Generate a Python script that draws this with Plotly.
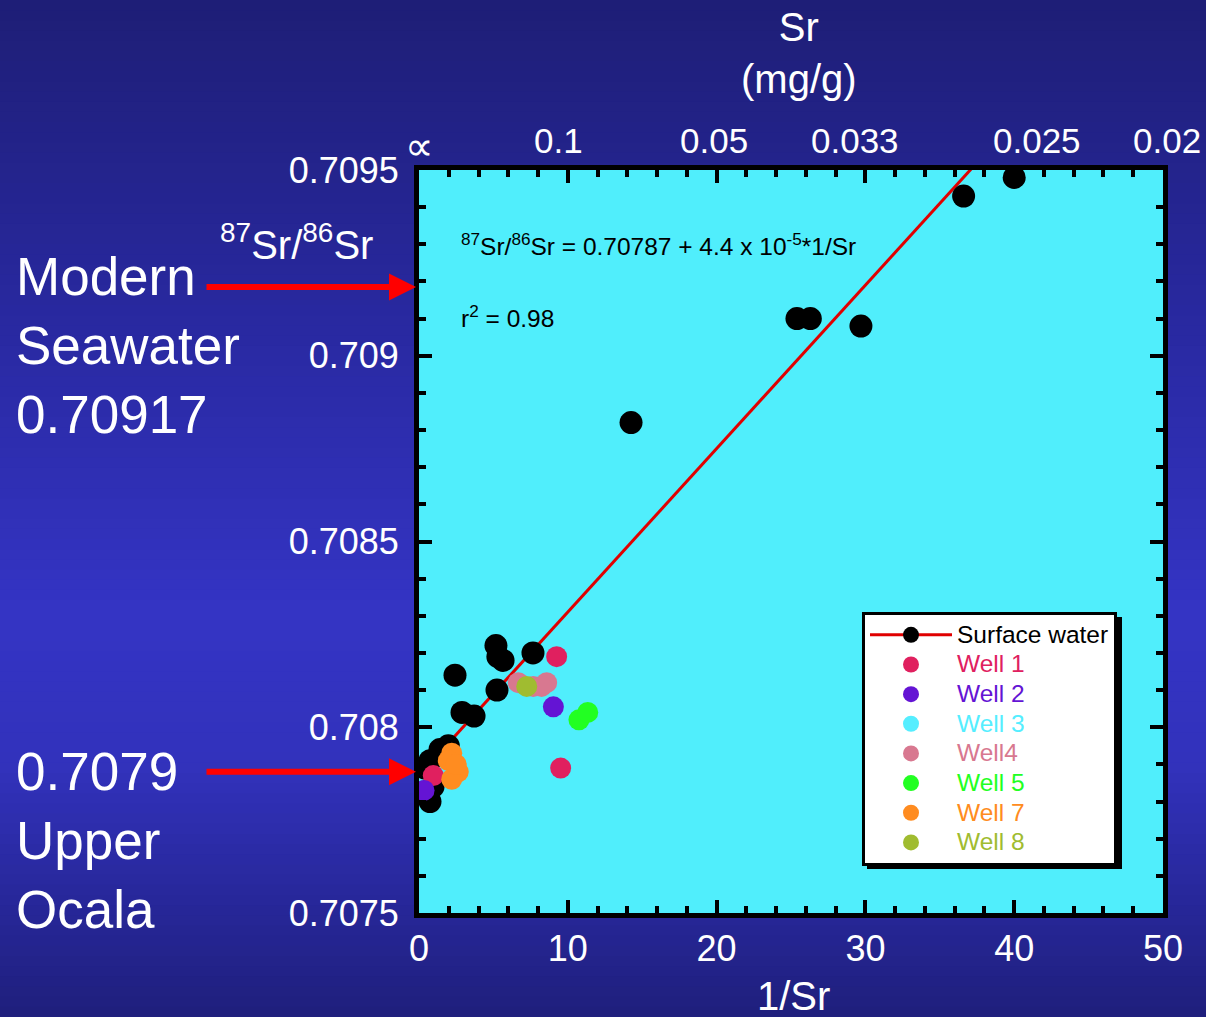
import plotly.graph_objects as go

# ---------------- data ----------------
surface_x = [40.0, 36.6, 25.4, 26.3, 29.7, 14.25, 7.66, 5.17, 5.3, 5.65, 2.42, 5.24, 2.89, 3.7,
             1.97, 1.41, 0.74, 0.4, 0.94, 0.74]
surface_y = [0.70948, 0.70943, 0.70910, 0.70910, 0.70908, 0.70882, 0.70820, 0.70822, 0.70819, 0.70818,
             0.70814, 0.70810, 0.70804, 0.70803, 0.70795, 0.70794, 0.70791, 0.70789, 0.70784, 0.70780]

well1_x = [9.25, 9.52, 0.96]
well1_y = [0.70819, 0.70789, 0.70787]
well2_x = [9.03, 0.34]
well2_y = [0.708055, 0.70783]
well3_x = [None]
well3_y = [None]
well4_x = [6.67, 7.68, 8.58, 8.24]
well4_y = [0.70812, 0.70811, 0.70812, 0.70811]
well5_x = [10.75, 11.34]
well5_y = [0.70802, 0.70804]
well7_x = [2.2, 1.97, 2.64, 2.2, 2.5]
well7_y = [0.70793, 0.70791, 0.70788, 0.70786, 0.70790]
well8_x = [7.24]
well8_y = [0.70811]

fit_intercept = 0.70787
fit_slope = 4.4e-5
fit_x = [0, 50]

x_ticks = [0, 10, 20, 30, 40, 50]
y_ticks = [0.7075, 0.708, 0.7085, 0.709, 0.7095]
y_ticklabels = ["0.7075", "0.708", "0.7085", "0.709", "0.7095"]
top_positions = [0, 9.4, 19.8, 29.3, 41.5, 50]
top_labels = ["∝", "0.1", "0.05", "0.033", "0.025", "0.02"]

seawater_value = 0.709185
ocala_value = 0.70788

# ---------------- styling ----------------
FONT = "Liberation Sans, Arial, sans-serif"
wells = [
    ("Well 1", well1_x, well1_y, "#E0205F"),
    ("Well 2", well2_x, well2_y, "#6414D4"),
    ("Well 3", well3_x, well3_y, "#55EEFF"),
    ("Well4", well4_x, well4_y, "#D87890"),
    ("Well 5", well5_x, well5_y, "#22FF22"),
    ("Well 7", well7_x, well7_y, "#FF8C20"),
    ("Well 8", well8_x, well8_y, "#A0BC30"),
]

fig = go.Figure()

# legend-only entry for surface water (red line + black marker)
fig.add_trace(go.Scatter(x=[None], y=[None], mode="lines+markers",
                         name="<span style='font-size:24.5px'>Surface water</span>",
                         line=dict(color="#E00000", width=3),
                         marker=dict(color="black", size=22)))

fit_y = [fit_intercept + fit_slope * v for v in fit_x]
fig.add_trace(go.Scatter(x=fit_x, y=fit_y, mode="lines", showlegend=False,
                         line=dict(color="#E00000", width=3), hoverinfo="skip"))

fig.add_trace(go.Scatter(x=surface_x, y=surface_y, mode="markers", showlegend=False,
                         marker=dict(color="black", size=23, line=dict(width=0))))

for name, xs, ys, col in wells:
    fig.add_trace(go.Scatter(x=xs, y=ys, mode="markers",
                             name=f"<span style='color:{col};font-size:24.5px'>{name}</span>",
                             marker=dict(color=col, size=21, line=dict(width=0))))

# background gradient bands
def grad_color(t):
    stops = [(0.0, (30, 30, 118)), (0.3, (40, 40, 158)), (0.6, (52, 52, 196)),
             (0.75, (50, 50, 188)), (0.9, (38, 38, 150)), (1.0, (31, 31, 124))]
    for (t0, c0), (t1, c1) in zip(stops[:-1], stops[1:]):
        if t0 <= t <= t1:
            f = (t - t0) / (t1 - t0)
            return "rgb(%d,%d,%d)" % tuple(round(a + (b - a) * f) for a, b in zip(c0, c1))
    return "rgb(%d,%d,%d)" % stops[-1][1]

W, H = 1206, 1017
L, R, T, B = 419, 43, 170, 104
pw, ph = W - L - R, H - T - B

def px_x(px):
    return (px - L) / pw

def px_y(py):
    return (H - B - py) / ph

shapes = []
n = 100
for i in range(n):
    y_top = i * H / n
    y_bot = (i + 1) * H / n + 1
    shapes.append(dict(type="rect", xref="paper", yref="paper", layer="below",
                       x0=px_x(0), x1=px_x(W), y0=px_y(y_bot), y1=px_y(y_top),
                       fillcolor=grad_color((i + 0.5) / n), line=dict(width=0)))
# plot area background (cyan)
shapes.append(dict(type="rect", xref="paper", yref="paper", layer="below",
                   x0=0, x1=1, y0=0, y1=1, fillcolor="#50EEFC", line=dict(width=0)))

# legend shadow
shapes.append(dict(type="rect", xref="paper", yref="paper", layer="above",
                   x0=px_x(867), x1=px_x(1122), y0=px_y(869), y1=px_y(617),
                   fillcolor="black", line=dict(width=0)))

annotations = []
# top axis labels
for pos, lab in zip(top_positions, top_labels):
    size = 40 if lab == "∝" else 35
    shift = 24 if lab == "∝" else 30
    xs = 4 if lab == "0.02" else 0
    annotations.append(dict(x=pos, y=1, xref="x", yref="paper", text=lab, showarrow=False,
                            yshift=shift, xshift=xs, yanchor="middle", xanchor="center",
                            font=dict(family=FONT, size=size, color="white")))

annotations += [
    dict(x=px_x(799), y=px_y(53), xref="paper", yref="paper", text="Sr<br>(mg/g)",
         xanchor="center", yanchor="middle",
         showarrow=False, font=dict(family=FONT, size=40, color="white")),
    dict(x=px_x(793), y=px_y(996), xref="paper", yref="paper", text="1/Sr",
         xanchor="center", yanchor="middle",
         showarrow=False, font=dict(family=FONT, size=40, color="white")),
    dict(x=px_x(296), y=px_y(242), xref="paper", yref="paper",
         text="<sup>87</sup>Sr/<sup>86</sup>Sr", xanchor="center", yanchor="middle",
         showarrow=False, font=dict(family=FONT, size=40, color="white")),
    dict(x=px_x(14), y=px_y(345), xref="paper", yref="paper", xanchor="left", yanchor="middle",
         text="Modern<br>Seawater<br>0.70917", align="left",
         showarrow=False, font=dict(family=FONT, size=53, color="white")),
    dict(x=px_x(14), y=px_y(840), xref="paper", yref="paper", xanchor="left", yanchor="middle",
         text="0.7079<br>Upper<br>Ocala", align="left",
         showarrow=False, font=dict(family=FONT, size=53, color="white")),
    dict(x=px_x(459), y=px_y(244), xref="paper", yref="paper", xanchor="left", yanchor="middle",
         text="<sup>87</sup>Sr/<sup>86</sup>Sr = 0.70787 + 4.4 x 10<sup>-5</sup>*1/Sr",
         showarrow=False, font=dict(family=FONT, size=24.5, color="black")),
    dict(x=px_x(459), y=px_y(316), xref="paper", yref="paper", xanchor="left", yanchor="middle",
         text="r<sup>2</sup> = 0.98",
         showarrow=False, font=dict(family=FONT, size=24.5, color="black")),
]
for val in [seawater_value, ocala_value]:
    annotations.append(dict(x=px_x(416), y=val, xref="paper", yref="y", text="",
                            showarrow=True, ax=-211, ay=0, axref="pixel", ayref="pixel",
                            arrowhead=2, arrowsize=0.9, arrowwidth=6, arrowcolor="#FF0000",
                            standoff=0, startstandoff=0))

fig.update_layout(
    width=W, height=H,
    margin=dict(l=L, r=R, t=T, b=B, pad=0),
    paper_bgcolor="#2a2aa0",
    plot_bgcolor="rgba(0,0,0,0)",
    font=dict(family=FONT, color="white", size=34),
    shapes=shapes,
    annotations=annotations,
    showlegend=True,
    legend=dict(x=px_x(862), y=px_y(612), xanchor="left", yanchor="top",
                bgcolor="white", bordercolor="black", borderwidth=3,
                font=dict(family=FONT, size=20.5, color="black"),
                itemwidth=82, tracegroupgap=0),
    xaxis=dict(range=[0, 50], tickvals=x_ticks, showgrid=False, zeroline=False,
               showline=True, linecolor="black", linewidth=5, mirror="ticks",
               ticks="inside", ticklen=13, tickwidth=4, tickcolor="black",
               minor=dict(ticks="inside", dtick=2, ticklen=7, tickwidth=4, tickcolor="black"),
               tickfont=dict(family=FONT, size=36, color="white"), ticklabelstandoff=0),
    yaxis=dict(range=[0.7075, 0.7095], tickvals=y_ticks, ticktext=y_ticklabels,
               showgrid=False, zeroline=False,
               showline=True, linecolor="black", linewidth=5, mirror="ticks",
               ticks="inside", ticklen=13, tickwidth=4, tickcolor="black",
               minor=dict(ticks="inside", dtick=0.0001, tick0=0.7075, ticklen=7, tickwidth=4,
                          tickcolor="black"),
               tickfont=dict(family=FONT, size=36, color="white"), ticklabelstandoff=8),
)

fig.write_html("out.html", config={"displayModeBar": False},
               post_script="document.body.style.margin='0px';document.body.style.overflow='hidden';")
